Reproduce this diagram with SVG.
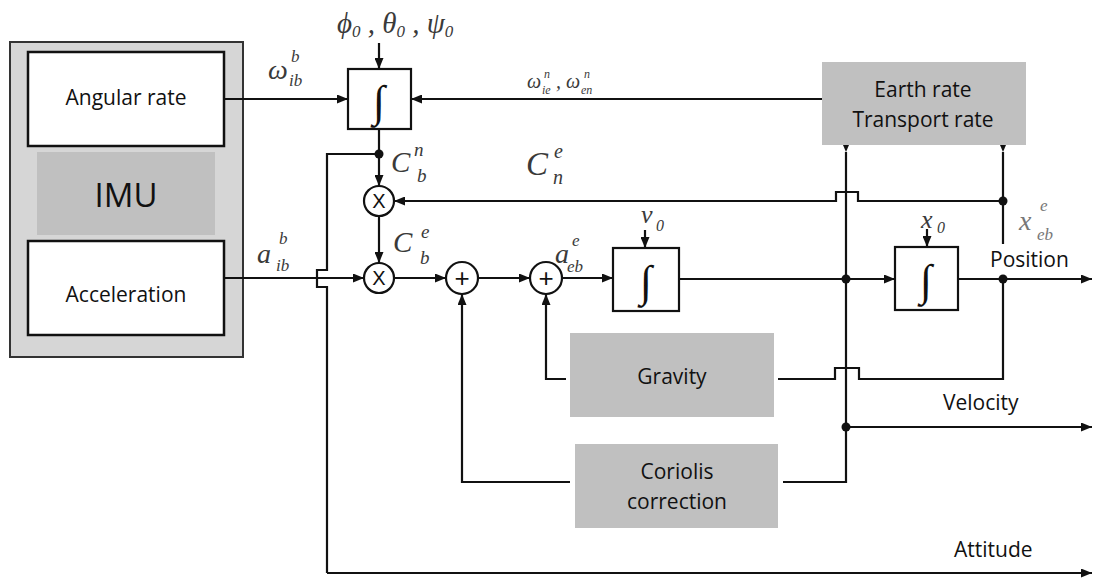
<svg xmlns="http://www.w3.org/2000/svg" width="1094" height="579" viewBox="0 0 1094 579">
<defs>
<marker id="ah" markerUnits="userSpaceOnUse" markerWidth="11" markerHeight="9" refX="11" refY="4.5" orient="auto"><path d="M0,0 L11,4.5 L0,9 z" fill="#111"/></marker>
<marker id="tip" markerUnits="userSpaceOnUse" markerWidth="7" markerHeight="6" refX="7" refY="3" orient="auto"><path d="M0,0 L7,3 L0,6 z" fill="#111"/></marker>
</defs>
<style>
.ln{fill:none;stroke:#111;stroke-width:2.2}
.ar{marker-end:url(#ah)}
.box{fill:#fff;stroke:#111;stroke-width:2.5}
.gray{fill:#c0c0c0}
.sq{fill:#fff;stroke:#111;stroke-width:2.2}
.circ{fill:#fff;stroke:#111;stroke-width:2.2}
.lbl{font-family:"Open Sans","Liberation Sans",sans-serif;font-size:21px;fill:#111}
.mid{text-anchor:middle}
.math{font-family:"Liberation Serif","DejaVu Serif",serif;font-style:italic;fill:#3a3a3a}
.int{font-family:"Liberation Serif","DejaVu Serif",serif;font-size:44px;fill:#111;text-anchor:middle}
.op{font-family:"Liberation Sans",sans-serif;fill:#111;text-anchor:middle}
.dot{fill:#111}
.light{fill:#777}
</style>
<rect width="1094" height="579" fill="#fff"/>

<g id="imu">
<rect x="10" y="42" width="233" height="315" fill="#d6d6d6" stroke="#333" stroke-width="2"/>
<rect x="37" y="152" width="178" height="83" class="gray"/>
<text x="126" y="207" class="lbl mid" style="font-size:33px">IMU</text>
</g>
<g id="angular-rate">
<rect x="28" y="52" width="196" height="94" class="box"/>
<text x="126" y="105" class="lbl mid">Angular rate</text>
</g>
<g id="acceleration">
<rect x="28" y="241" width="196" height="94" class="box"/>
<text x="126" y="302" class="lbl mid">Acceleration</text>
</g>

<g id="connectors">
<path class="ln ar" d="M224,99 H348"/>
<path class="ln ar" d="M379,43 V69"/>
<path class="ln ar" d="M822,99 H411"/>
<path class="ln ar" d="M379,129 V186"/>
<path class="ln" d="M379,154 H327 V270 H317 V287 H327 V573"/>
<path class="ln ar" d="M327,573 H1092"/>
<path class="ln ar" d="M224,278 H364"/>
<path class="ln ar" d="M379,216 V263"/>
<path class="ln ar" d="M1003,201 H858 V192 H836 V201 H394"/>
<path class="ln ar" d="M394,278 H446"/>
<path class="ln ar" d="M478,278 H530"/>
<path class="ln ar" d="M562,278 H613"/>
<path class="ln ar" d="M645,230 V248"/>
<path class="ln ar" d="M679,279 H895"/>
<path class="ln ar" d="M927,229 V247"/>
<path class="ln ar" d="M958,279 H1092"/>
<path class="ln" d="M846,152 V482 H783" marker-start="url(#tip)"/>
<path class="ln ar" d="M846,427 H1092"/>
<path class="ln" d="M1003,152 V244" marker-start="url(#tip)"/>
<path class="ln" d="M1003,279 V379 H859 V368 H835 V379 H778"/>
<path class="ln ar" d="M566,379 H546 V294"/>
<path class="ln ar" d="M570,482 H462 V294"/>
<circle cx="379" cy="154" r="4.5" class="dot"/>
<circle cx="1003" cy="201" r="4.5" class="dot"/>
<circle cx="846" cy="279" r="4.5" class="dot"/>
<circle cx="1003" cy="279" r="4.5" class="dot"/>
<circle cx="846" cy="427" r="4.5" class="dot"/>
</g>

<g id="int-attitude">
<rect x="348" y="69" width="63" height="60" class="sq"/>
<text x="379" y="116" class="int">∫</text>
</g>
<g id="mult1">
<circle cx="379" cy="201" r="15" class="circ"/>
<text x="379" y="208" class="op" font-size="20">X</text>
</g>
<g id="mult2">
<circle cx="379" cy="278" r="15" class="circ"/>
<text x="379" y="285" class="op" font-size="20">X</text>
</g>
<g id="sum1">
<circle cx="462" cy="278" r="16" class="circ"/>
<text x="462" y="287" class="op" font-size="26">+</text>
</g>
<g id="sum2">
<circle cx="546" cy="278" r="16" class="circ"/>
<text x="546" y="287" class="op" font-size="26">+</text>
</g>
<g id="int-velocity">
<rect x="613" y="248" width="66" height="63" class="sq"/>
<text x="646" y="296" class="int">∫</text>
</g>
<g id="int-position">
<rect x="895" y="247" width="63" height="63" class="sq"/>
<text x="926" y="295" class="int">∫</text>
</g>
<g id="earth-rate">
<rect x="822" y="62" width="204" height="83" class="gray"/>
<text x="923" y="97" class="lbl mid">Earth rate</text>
<text x="923" y="127" class="lbl mid">Transport rate</text>
</g>
<g id="gravity">
<rect x="570" y="333" width="204" height="84" class="gray"/>
<text x="672" y="384" class="lbl mid">Gravity</text>
</g>
<g id="coriolis">
<rect x="575" y="444" width="203" height="84" class="gray"/>
<text x="677" y="479" class="lbl mid">Coriolis</text>
<text x="677" y="509" class="lbl mid">correction</text>
</g>

<g id="labels">
<text class="lbl" x="990" y="267">Position</text>
<text class="lbl" x="943" y="410">Velocity</text>
<text class="lbl" x="954" y="557">Attitude</text>

<text class="math" x="337" y="33" font-size="29">ϕ<tspan font-size="17" dy="4">0</tspan><tspan dy="-4"> , θ</tspan><tspan font-size="17" dy="4">0</tspan><tspan dy="-4"> , ψ</tspan><tspan font-size="17" dy="4">0</tspan></text>

<text class="math" x="268" y="79" font-size="28">ω</text>
<text class="math" x="291" y="62" font-size="17">b</text>
<text class="math" x="289" y="86" font-size="17">ib</text>

<text class="math" x="257" y="263" font-size="28">a</text>
<text class="math" x="279" y="244" font-size="17">b</text>
<text class="math" x="276" y="271" font-size="17">ib</text>

<text class="math" x="527" y="88" font-size="20">ω</text>
<text class="math" x="544" y="78" font-size="12">n</text>
<text class="math" x="542" y="94" font-size="12">ie</text>
<text class="math" x="556" y="88" font-size="20">,</text>
<text class="math" x="566" y="88" font-size="20">ω</text>
<text class="math" x="584" y="78" font-size="12">n</text>
<text class="math" x="581" y="94" font-size="12">en</text>

<text class="math" x="391" y="172" font-size="29">C</text>
<text class="math" x="414" y="156" font-size="19">n</text>
<text class="math" x="417" y="182" font-size="19">b</text>

<text class="math" x="526" y="175" font-size="33">C</text>
<text class="math" x="554" y="158" font-size="20">e</text>
<text class="math" x="553" y="184" font-size="20">n</text>

<text class="math" x="393" y="252" font-size="29">C</text>
<text class="math" x="421" y="238" font-size="19">e</text>
<text class="math" x="420" y="264" font-size="19">b</text>

<text class="math" x="555" y="263" font-size="28">a</text>
<text class="math" x="572" y="246" font-size="17">e</text>
<text class="math" x="567" y="272" font-size="17">eb</text>

<text class="math" x="641" y="223" font-size="26">v</text>
<text class="math" x="656" y="231" font-size="16">0</text>

<text class="math" x="921" y="228" font-size="26">x</text>
<text class="math" x="937" y="233" font-size="16">0</text>

<text class="math light" x="1019" y="230" font-size="28">x</text>
<text class="math light" x="1040" y="211" font-size="17">e</text>
<text class="math light" x="1037" y="240" font-size="17">eb</text>
</g>
</svg>
